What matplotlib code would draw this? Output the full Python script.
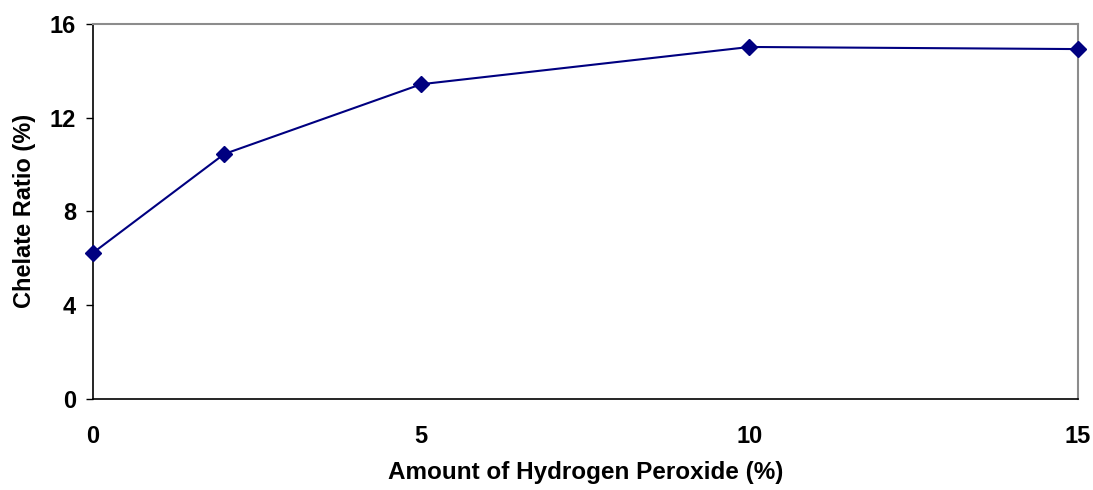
import matplotlib
matplotlib.use("Agg")
from matplotlib import pyplot as plt

peroxide = [0, 2, 5, 10, 15]
chelate = [6.23, 10.45, 13.43, 15.02, 14.93]
x_ticks = [0, 5, 10, 15]
y_ticks = [0, 4, 8, 12, 16]

plt.rcParams["font.family"] = ["Liberation Sans", "DejaVu Sans"]
plt.rcParams["font.weight"] = "bold"

fig = plt.figure(figsize=(10.93, 4.9), dpi=100)
ax = fig.add_axes([0.085, 0.186, 0.901, 0.765])

ax.plot(peroxide, chelate, color="#000080", lw=1.5, marker="D", ms=8,
        clip_on=False, zorder=3)

ax.set_xlim(0, 15)
ax.set_ylim(0, 16)
ax.set_xticks(x_ticks)
ax.set_yticks(y_ticks)
ax.tick_params(axis="x", length=0, pad=19, labelsize=17)
ax.tick_params(axis="y", length=5, width=1, pad=7, labelsize=17, direction="out")
for lab in ax.get_xticklabels() + ax.get_yticklabels():
    lab.set_fontweight("bold")

for s in ["left", "bottom"]:
    ax.spines[s].set_color("black")
    ax.spines[s].set_linewidth(1.2)
for s in ["top", "right"]:
    ax.spines[s].set_color("#8c8c8c")
    ax.spines[s].set_linewidth(1.5)

ax.set_xlabel("Amount of Hydrogen Peroxide (%)", fontsize=17.5, fontweight="bold", labelpad=9)
ax.set_ylabel("Chelate Ratio (%)", fontsize=17, fontweight="bold", labelpad=10)

fig.savefig("out.png", dpi=100)
